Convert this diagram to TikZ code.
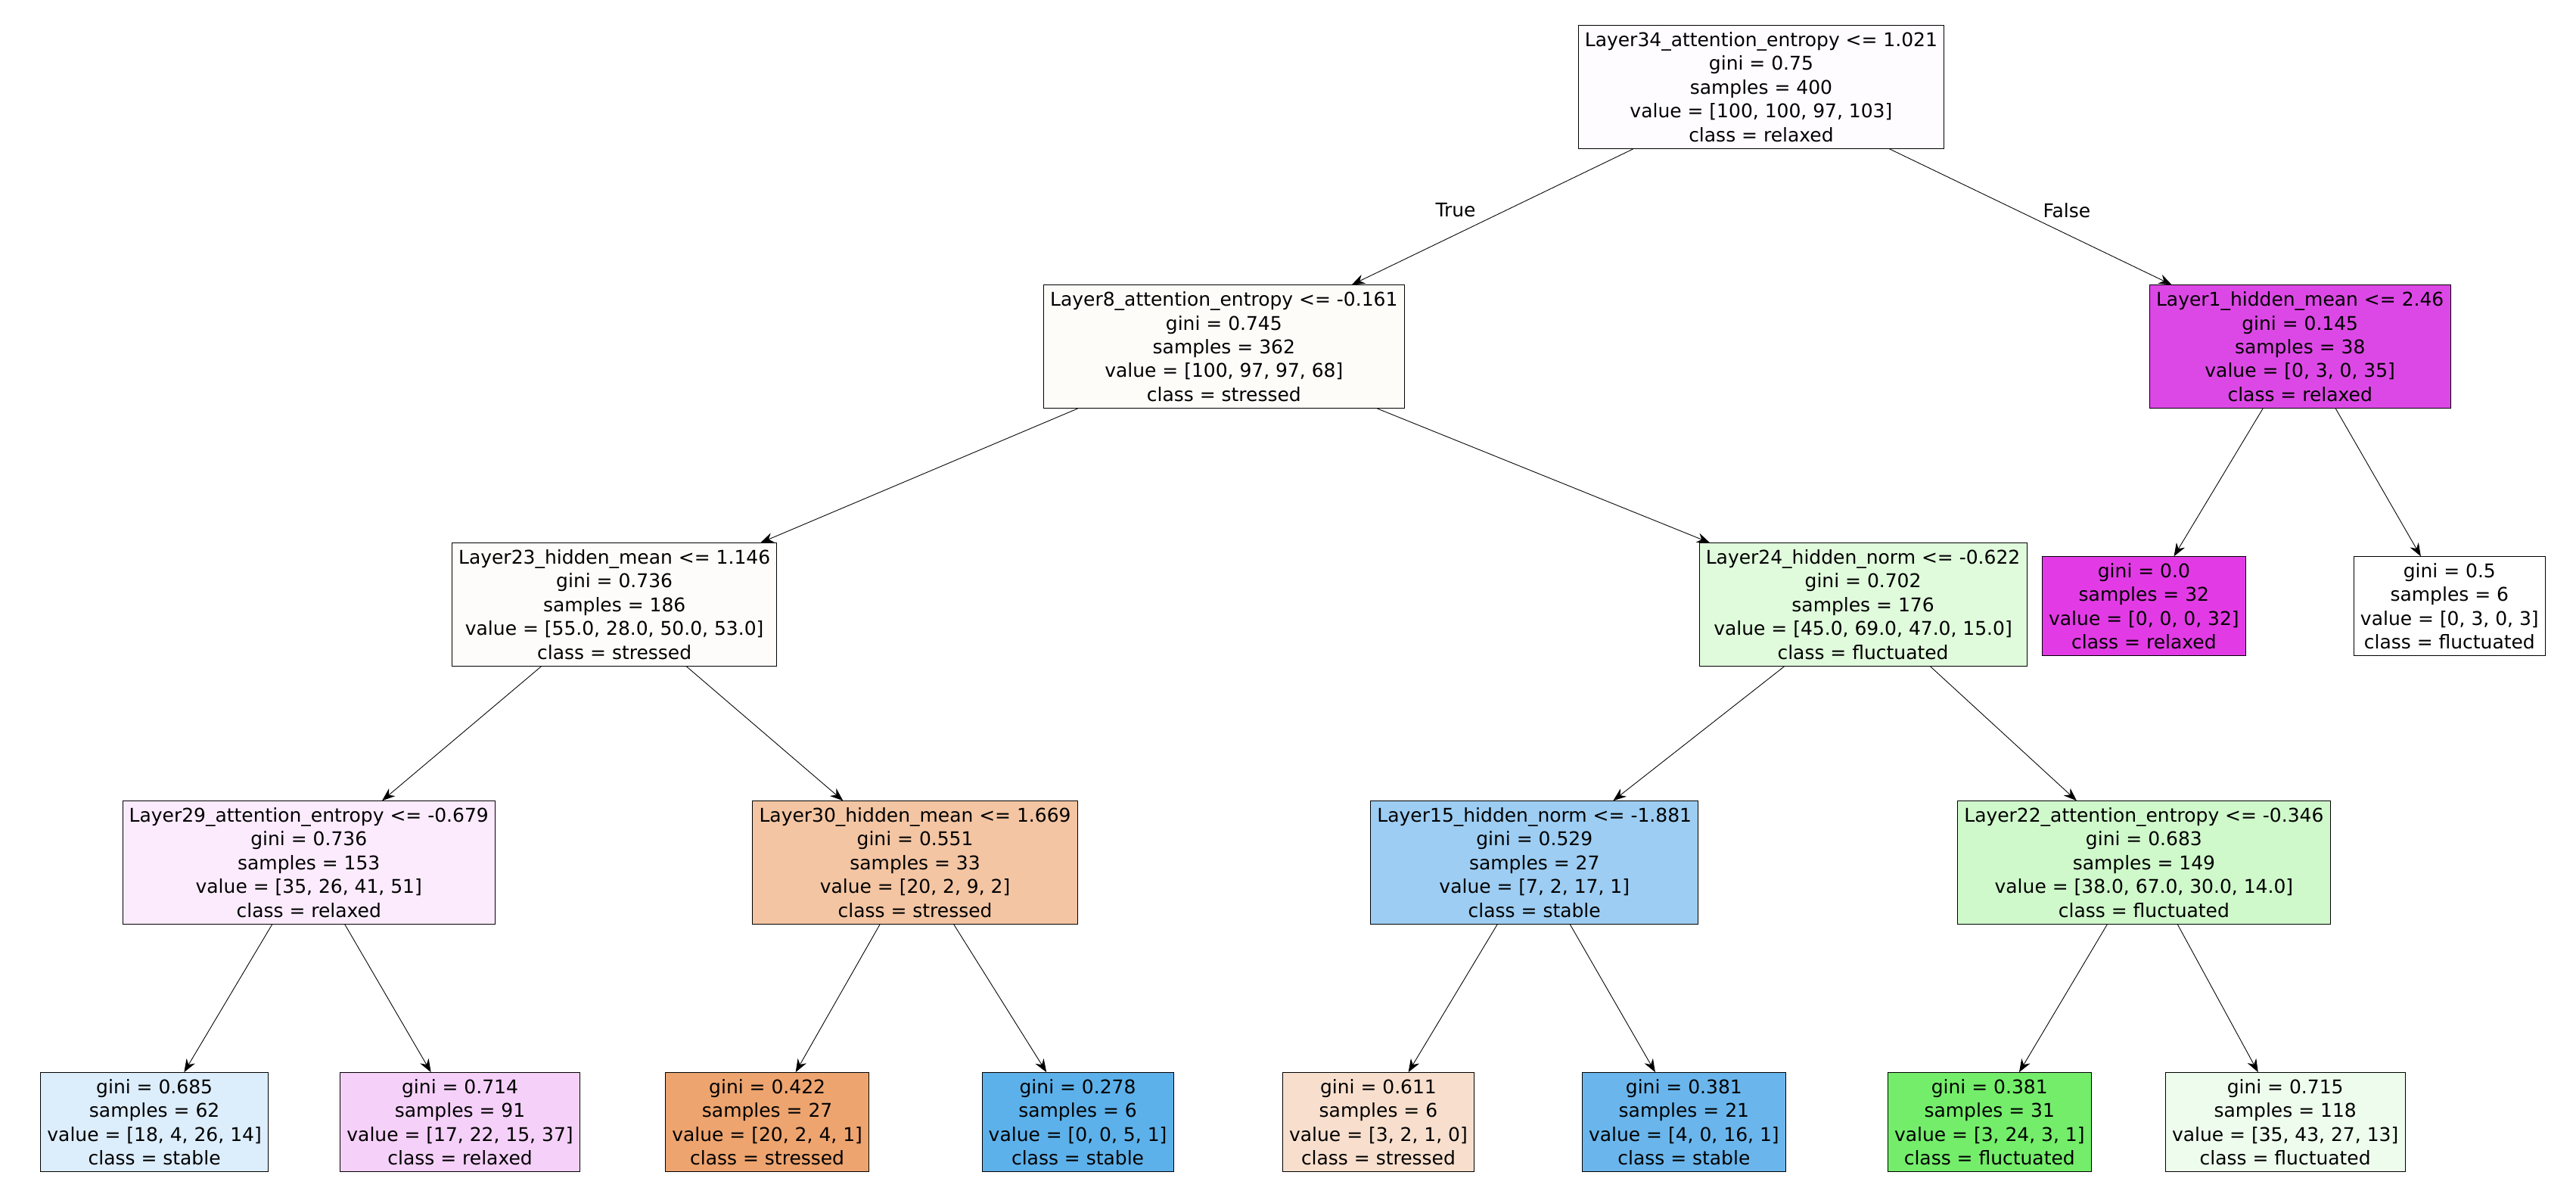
\documentclass[tikz,border=0pt]{standalone}
\usepackage{fontspec}
\setmainfont{DejaVu Sans}
\usetikzlibrary{arrows.meta,positioning}
\definecolor{c0}{HTML}{FEFCFF}
\definecolor{c1}{HTML}{FEFCF9}
\definecolor{c2}{HTML}{DC48E5}
\definecolor{c3}{HTML}{FEFCFA}
\definecolor{c4}{HTML}{E0FADC}
\definecolor{c5}{HTML}{E23BE5}
\definecolor{c7}{HTML}{FBEBFD}
\definecolor{c8}{HTML}{F3C5A3}
\definecolor{c9}{HTML}{9DCDF2}
\definecolor{c10}{HTML}{CFF8CB}
\definecolor{c11}{HTML}{DCEDFB}
\definecolor{c12}{HTML}{F5D0F8}
\definecolor{c13}{HTML}{EDA46F}
\definecolor{c14}{HTML}{5DB1EA}
\definecolor{c15}{HTML}{F8DFCD}
\definecolor{c16}{HTML}{6AB6EC}
\definecolor{c17}{HTML}{74ED6B}
\definecolor{c18}{HTML}{EEFCED}
\begin{document}
\begin{tikzpicture}[x=1pt,y=-1pt,
  box/.style={draw,align=center,inner sep=4pt,font=\fontsize{11.5}{14.5}\selectfont},
  edge/.style={draw,-{Stealth[length=8pt,width=6pt]},thin}]
\useasboundingbox (0,0) rectangle (1568,730);
% level 0
\node[box,fill=c0] (r) at (1072,53) {Layer34\_attention\_entropy <= 1.021\\gini = 0.75\\samples = 400\\value = [100, 100, 97, 103]\\class = relaxed};
% level 1
\node[box,fill=c1] (a) at (745,211) {Layer8\_attention\_entropy <= -0.161\\gini = 0.745\\samples = 362\\value = [100, 97, 97, 68]\\class = stressed};
\node[box,fill=c2] (b) at (1400,211) {Layer1\_hidden\_mean <= 2.46\\gini = 0.145\\samples = 38\\value = [0, 3, 0, 35]\\class = relaxed};
% level 2
\node[box,fill=c3] (aa) at (374,368) {Layer23\_hidden\_mean <= 1.146\\gini = 0.736\\samples = 186\\value = [55.0, 28.0, 50.0, 53.0]\\class = stressed};
\node[box,fill=c4] (ab) at (1134,368) {Layer24\_hidden\_norm <= -0.622\\gini = 0.702\\samples = 176\\value = [45.0, 69.0, 47.0, 15.0]\\class = fluctuated};
\node[box,fill=c5] (ba) at (1305,369) {gini = 0.0\\samples = 32\\value = [0, 0, 0, 32]\\class = relaxed};
\node[box,fill=white] (bb) at (1491,369) {gini = 0.5\\samples = 6\\value = [0, 3, 0, 3]\\class = fluctuated};
% level 3
\node[box,fill=c7] (aaa) at (188,525) {Layer29\_attention\_entropy <= -0.679\\gini = 0.736\\samples = 153\\value = [35, 26, 41, 51]\\class = relaxed};
\node[box,fill=c8] (aab) at (557,525) {Layer30\_hidden\_mean <= 1.669\\gini = 0.551\\samples = 33\\value = [20, 2, 9, 2]\\class = stressed};
\node[box,fill=c9] (aba) at (934,525) {Layer15\_hidden\_norm <= -1.881\\gini = 0.529\\samples = 27\\value = [7, 2, 17, 1]\\class = stable};
\node[box,fill=c10] (abb) at (1305,525) {Layer22\_attention\_entropy <= -0.346\\gini = 0.683\\samples = 149\\value = [38.0, 67.0, 30.0, 14.0]\\class = fluctuated};
% level 4
\node[box,fill=c11] (l1) at (94,683) {gini = 0.685\\samples = 62\\value = [18, 4, 26, 14]\\class = stable};
\node[box,fill=c12] (l2) at (280,683) {gini = 0.714\\samples = 91\\value = [17, 22, 15, 37]\\class = relaxed};
\node[box,fill=c13] (l3) at (467,683) {gini = 0.422\\samples = 27\\value = [20, 2, 4, 1]\\class = stressed};
\node[box,fill=c14] (l4) at (656,683) {gini = 0.278\\samples = 6\\value = [0, 0, 5, 1]\\class = stable};
\node[box,fill=c15] (l5) at (839,683) {gini = 0.611\\samples = 6\\value = [3, 2, 1, 0]\\class = stressed};
\node[box,fill=c16] (l6) at (1025,683) {gini = 0.381\\samples = 21\\value = [4, 0, 16, 1]\\class = stable};
\node[box,fill=c17] (l7) at (1211,683) {gini = 0.381\\samples = 31\\value = [3, 24, 3, 1]\\class = fluctuated};
\node[box,fill=c18] (l8) at (1391,683) {gini = 0.715\\samples = 118\\value = [35, 43, 27, 13]\\class = fluctuated};
% edges
\foreach \p/\c in {r/a,r/b,a/aa,a/ab,b/ba,b/bb,aa/aaa,aa/aab,ab/aba,ab/abb,
  aaa/l1,aaa/l2,aab/l3,aab/l4,aba/l5,aba/l6,abb/l7,abb/l8}
  \draw[edge] (\p) -- (\c);
\node[font=\fontsize{11.5}{14}\selectfont] (t) at (886,128) {True};
\node[font=\fontsize{11.5}{14}\selectfont] (f) at (1258,128) {False};
\end{tikzpicture}
\end{document}
